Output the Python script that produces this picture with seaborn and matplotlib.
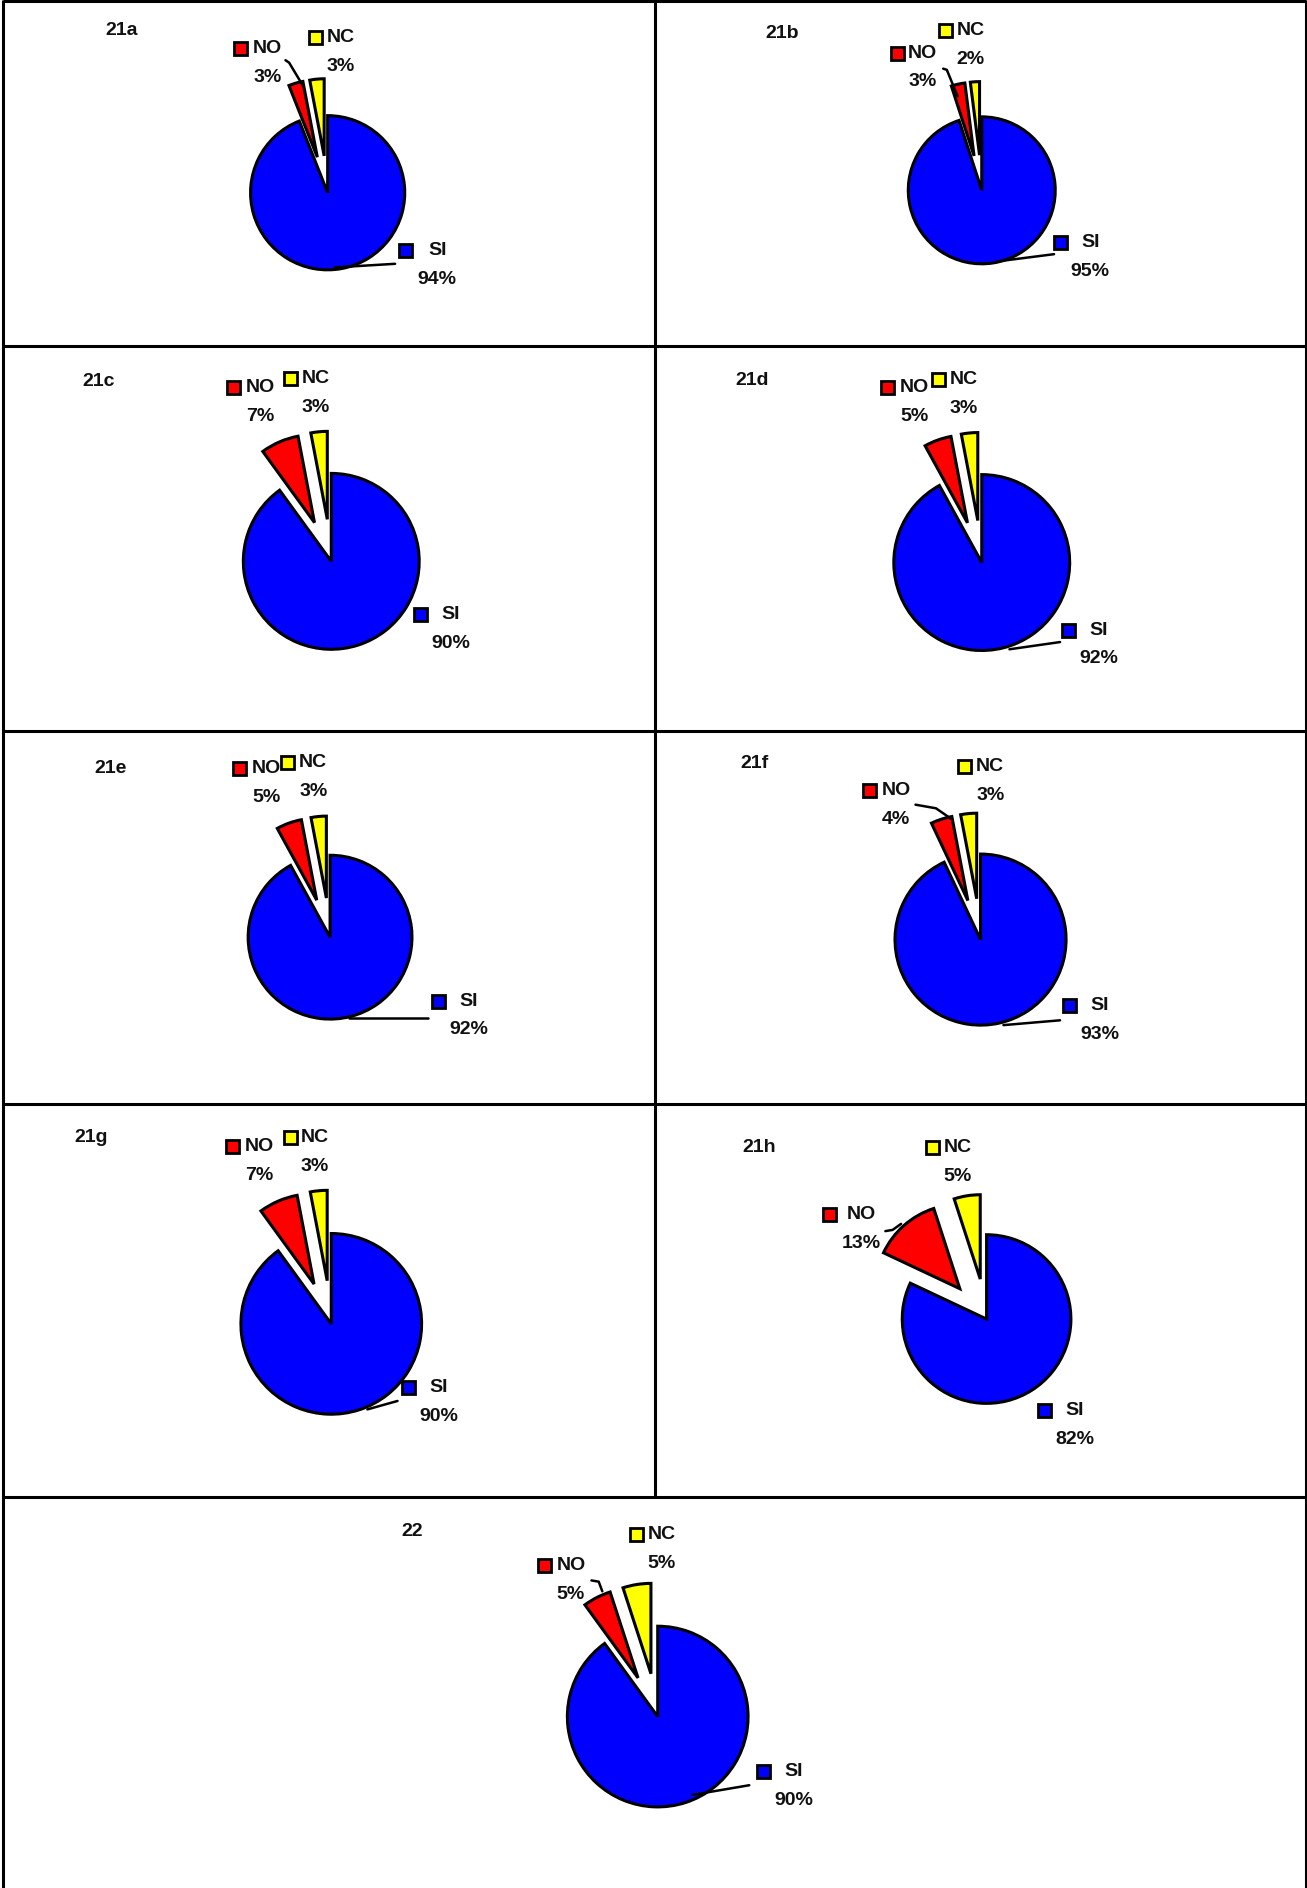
import matplotlib
matplotlib.use("Agg")
import matplotlib.pyplot as plt
from matplotlib.patches import Rectangle
import seaborn as sns

# ------------------------------
# Data
# ------------------------------
panels = ["21a", "21b", "21c", "21d", "21e", "21f", "21g", "21h", "22"]
categories = ["SI", "NO", "NC"]
si_pct = [94, 95, 90, 92, 92, 93, 90, 82, 90]
no_pct = [3, 3, 7, 5, 5, 4, 7, 13, 5]
nc_pct = [3, 2, 3, 3, 3, 3, 3, 5, 5]
colors = ["#0000FF", "#FF0000", "#FFFF00"]

# ------------------------------
# Layout (measured on a 1085 px wide copy, scaled by S)
# ------------------------------
W, H = 1307, 1888
S = W / 1085

title_xy = [(101, 25), (649, 28), (82, 317), (624, 316), (92, 638),
            (626, 634), (76, 944), (630, 953), (342, 1271)]
pie_xyr = [(272, 160, 64), (815, 158, 61), (275, 466, 73), (815, 467, 73),
           (274, 778, 68), (814, 780, 71), (275, 1099, 75), (819, 1095, 70),
           (546, 1425, 75)]
# (square x, square y, text x) per category SI / NO / NC
label_pos = [
    [(337, 208, 363), (200, 40, 222), (262, 31, 283)],
    [(880, 201, 905), (745, 44, 766), (785, 25, 806)],
    [(349, 510, 374), (194, 322, 216), (241, 314, 262)],
    [(887, 523, 912), (737, 322, 759), (779, 315, 800)],
    [(364, 831, 389), (199, 638, 221), (239, 633, 260)],
    [(888, 835, 913), (722, 656, 744), (801, 636, 822)],
    [(339, 1152, 364), (193, 952, 215), (241, 944, 261)],
    [(867, 1171, 892), (689, 1008, 715), (774, 953, 795)],
    [(634, 1471, 659), (452, 1300, 474), (528, 1274, 549)],
]
leaders = [
    [[(278, 222), (328, 219)], [(237, 50), (240, 52), (252, 72)]],
    [[(828, 217), (875, 211)], [(783, 57), (786, 58), (795, 80)]],
    [],
    [[(838, 539), (880, 533)]],
    [[(290, 845), (355, 845)]],
    [[(833, 851), (880, 847)], [(760, 668), (777, 671), (790, 680)]],
    [[(305, 1170), (330, 1163)]],
    [[(735, 1022), (741, 1021), (748, 1016)]],
    [[(575, 1490), (622, 1482)], [(491, 1312), (497, 1313), (500, 1321)]],
]


def fx(x):
    return x * S


def fy(y):
    return H - y * S


sns.set_theme(style="white")
plt.rcParams['font.family'] = ['Liberation Sans', 'DejaVu Sans']

fig = plt.figure(figsize=(W / 100, H / 100), dpi=100)
ax = fig.add_axes([0, 0, 1, 1])

txt = dict(fontsize=14, fontweight="bold", color="#111111", ha="center", va="center")

for i, name in enumerate(panels):
    vals = [si_pct[i], no_pct[i], nc_pct[i]]
    cx, cy, r = pie_xyr[i]
    rad = r * S
    # explode se zadaje u jedinicama podataka, pa ga skaliramo poluprecnikom
    ax.pie(vals, colors=sns.color_palette(colors), explode=[0, 0.48 * rad, 0.48 * rad],
           startangle=90, counterclock=False, center=(fx(cx), fy(cy)),
           radius=rad, frame=True,
           wedgeprops=dict(edgecolor="black", linewidth=2.2, joinstyle="miter"))

    tx, ty = title_xy[i]
    ax.text(fx(tx), fy(ty), name, **txt)

    for j, cat in enumerate(categories):
        sx, sy, lx = label_pos[i][j]
        sq = 13
        ax.add_patch(Rectangle((fx(sx) - sq / 2, fy(sy) - sq / 2), sq, sq,
                               facecolor=colors[j], edgecolor="black", lw=2))
        ax.text(fx(lx), fy(sy), cat, **txt)
        ax.text(fx(lx), fy(sy + 24), f"{vals[j]}%", **txt)

    for pts in leaders[i]:
        ax.plot([fx(p[0]) for p in pts], [fy(p[1]) for p in pts],
                color="black", lw=1.8)

# linije tabele
line = dict(color="black", lw=2.2, solid_capstyle="butt")
ax.plot([3, 3], [0, H], **line)
ax.plot([1306, 1306], [0, H], **line)
ax.plot([655, 655], [H - 1497, H], **line)
for y in [1, 346, 731, 1104, 1497]:
    ax.plot([3, 1306], [H - y, H - y], **line)

ax.set_xlim(0, W)
ax.set_ylim(0, H)
ax.set_aspect("auto")
ax.axis("off")

fig.savefig("out.png", dpi=100, facecolor="white")
